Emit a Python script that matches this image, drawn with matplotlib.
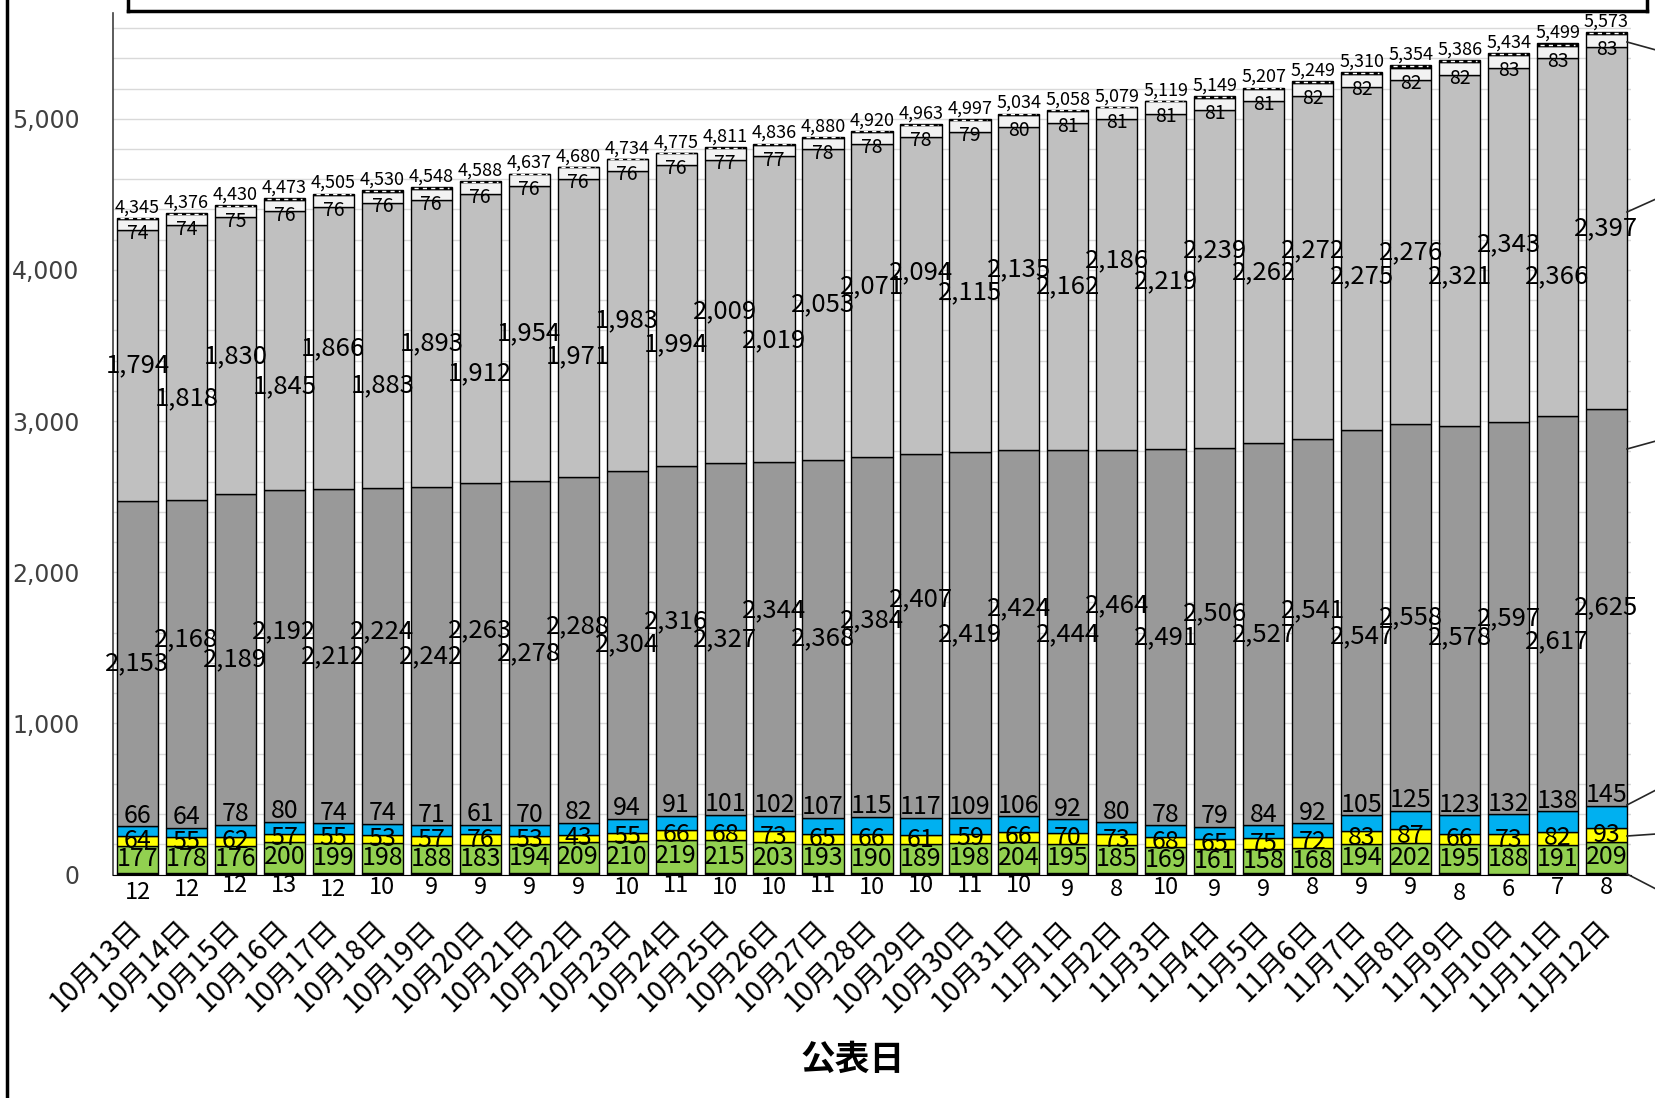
import numpy as np
import matplotlib.pyplot as plt
from matplotlib.lines import Line2D

plt.rcParams['font.family'] = ['Noto Sans CJK JP', 'DejaVu Sans']

# data (bottom -> top of each stacked bar)
dates = ['10月13日', '10月14日', '10月15日', '10月16日', '10月17日', '10月18日', '10月19日',
         '10月20日', '10月21日', '10月22日', '10月23日', '10月24日', '10月25日', '10月26日',
         '10月27日', '10月28日', '10月29日', '10月30日', '10月31日', '11月1日', '11月2日',
         '11月3日', '11月4日', '11月5日', '11月6日', '11月7日', '11月8日', '11月9日',
         '11月10日', '11月11日', '11月12日']
totals = [4345, 4376, 4430, 4473, 4505, 4530, 4548, 4588, 4637, 4680, 4734, 4775, 4811, 4836,
          4880, 4920, 4963, 4997, 5034, 5058, 5079, 5119, 5149, 5207, 5249, 5310, 5354, 5386,
          5434, 5499, 5573]
black_vals = [12, 12, 12, 13, 12, 10, 9, 9, 9, 9, 10, 11, 10, 10, 11, 10, 10, 11, 10, 9, 8, 10,
              9, 9, 8, 9, 9, 8, 6, 7, 8]
green_vals = [177, 178, 176, 200, 199, 198, 188, 183, 194, 209, 210, 219, 215, 203, 193, 190, 189,
              198, 204, 195, 185, 169, 161, 158, 168, 194, 202, 195, 188, 191, 209]
yellow_vals = [64, 55, 62, 57, 55, 53, 57, 76, 53, 43, 55, 66, 68, 73, 65, 66, 61, 59, 66, 70, 73,
               68, 65, 75, 72, 83, 87, 66, 73, 82, 93]
blue_vals = [66, 64, 78, 80, 74, 74, 71, 61, 70, 82, 94, 91, 101, 102, 107, 115, 117, 109, 106, 92,
             80, 78, 79, 84, 92, 105, 125, 123, 132, 138, 145]
dark_vals = [2153, 2168, 2189, 2192, 2212, 2224, 2242, 2263, 2278, 2288, 2304, 2316, 2327, 2344,
             2368, 2384, 2407, 2419, 2424, 2444, 2464, 2491, 2506, 2527, 2541, 2547, 2558, 2578,
             2597, 2617, 2625]
light_vals = [1794, 1818, 1830, 1845, 1866, 1883, 1893, 1912, 1954, 1971, 1983, 1994, 2009, 2019,
              2053, 2071, 2094, 2115, 2135, 2162, 2186, 2219, 2239, 2262, 2272, 2275, 2276, 2321,
              2343, 2366, 2397]
white_vals = [74, 74, 75, 76, 76, 76, 76, 76, 76, 76, 76, 76, 77, 77, 78, 78, 78, 79, 80, 81, 81,
              81, 81, 81, 82, 82, 82, 82, 83, 83, 83]
other_vals = [5, 7, 8, 10, 11, 12, 12, 8, 3, 2, 2, 2, 4, 8, 5, 6, 7, 7, 9, 5, 2, 3, 9, 11, 14, 15,
              15, 13, 12, 15, 13]

# staggering of the big labels (pixels, + = up)
light_nudge = [0, -34, 0, -34, 0, -38, 0, -33, 0, -27, 0, -27, 0, -30, 0, 13, 22, 0, 18, 0, 23, 0,
               27, 0, 16, -17, 0, -25, 0, -37, 0]
dark_nudge = [0, 23, 0, 23, 0, 23, 0, 22, 0, 22, 0, 19, 0, 27, 0, 16, 34, 0, 23, 0, 29, 0, 23, 0,
              20, -13, 0, -16, 0, -26, 0]
black_nudge = [-17, -14, -10, -10, -14, -12, -12, -12, -12, -12, -12, -10, -12, -12, -10, -12, -10,
               -10, -10, -14, -14, -12, -14, -14, -12, -12, -12, -18, -14, -12, -12]

W, H = 1656, 1098
fig = plt.figure(figsize=(W / 100, H / 100), dpi=100)
ax = fig.add_axes([113 / W, 1 - 874.5 / H, (1631 - 113) / W, (874.5 - 13) / H])

x = np.arange(len(dates))
w = 0.84
series = [black_vals, green_vals, yellow_vals, blue_vals, dark_vals, light_vals, white_vals, other_vals]
colors = ['#000000', '#92D050', '#FFFF00', '#00B0F0', '#999999', '#C0C0C0', '#F2F2F2', '#000000']
bottom = np.zeros(len(dates))
bottoms = []
for vals, c in zip(series, colors):
    ax.bar(x, vals, w, bottom=bottom, color=c, edgecolor='black', linewidth=1.0, zorder=2)
    bottoms.append(bottom.copy())
    bottom = bottom + np.array(vals)

# dashed pattern on the top segment
ax.hlines(bottoms[7] + np.array(other_vals) / 2, x - w * 0.42, x + w * 0.42, colors='white',
          linestyles=(0, (3, 3)), lw=1.0, zorder=3)

px = 0.76  # display px -> points


def lab(xi, y, v, size, dy=0.0):
    ax.annotate(f'{v:,}', (xi, y), xytext=(0, dy), textcoords='offset points',
                ha='center', va='center', fontsize=size, color='black', zorder=5)


for i in x:
    lab(i, 0, black_vals[i], 17, black_nudge[i] * px)
    lab(i, bottoms[1][i] + green_vals[i] / 2, green_vals[i], 18)
    lab(i, bottoms[2][i] + yellow_vals[i] / 2, yellow_vals[i], 18)
    lab(i, bottoms[3][i] + blue_vals[i], blue_vals[i], 18, 10 * px)
    lab(i, bottoms[4][i] + dark_vals[i] / 2, dark_vals[i], 18.5, dark_nudge[i] * px)
    lab(i, bottoms[5][i] + light_vals[i] / 2, light_vals[i], 18.5, light_nudge[i] * px)
    lab(i, bottoms[6][i] + white_vals[i] / 2, white_vals[i], 14, -9 * px)
    lab(i, totals[i], totals[i], 13, 10 * px)

ax.set_xlim(-0.5, len(dates) - 0.5)
ax.set_ylim(0, 5700)
ax.set_yticks(range(0, 6000, 1000))
ax.set_yticklabels([f'{v:,}' for v in range(0, 6000, 1000)], family='DejaVu Sans')
ax.set_yticks(np.arange(0, 5700, 200), minor=True)
ax.grid(axis='y', which='both', color='#D9D9D9', lw=1.0, zorder=0)
ax.set_axisbelow(True)
ax.tick_params(axis='y', which='both', length=0, pad=24, labelsize=17, labelcolor='#404040')

ax.set_xticks(x)
ax.set_xticklabels(dates, rotation=45, ha='right', va='center', rotation_mode='anchor', fontsize=20)
ax.tick_params(axis='x', length=0, pad=36)

for s in ['top', 'right']:
    ax.spines[s].set_visible(False)
ax.spines['left'].set_color('#404040')
ax.spines['left'].set_linewidth(1.2)
ax.spines['bottom'].set_color('black')

fig.text(853 / W, 1 - 1059 / H, '公表日', ha='center', va='center', fontsize=25, fontweight='bold')

# chart frame and the cut-off box at the top
fig.add_artist(Line2D([7.5 / W] * 2, [0, 1], color='black', lw=2.5))
fig.add_artist(Line2D([128 / W, 1647 / W], [1 - 11 / H] * 2, color='black', lw=2.5))
fig.add_artist(Line2D([128 / W] * 2, [1 - 11 / H, 1], color='black', lw=2.5))
fig.add_artist(Line2D([1647 / W] * 2, [1 - 11 / H, 1], color='black', lw=2.5))

# leader lines going to the series names outside the picture
leaders = [((1627, 42), (1656, 50)), ((1627, 212), (1656, 199)), ((1627, 449), (1656, 441)),
           ((1627, 805), (1656, 790)), ((1627, 836), (1656, 834)), ((1627, 874), (1656, 889))]
for (x0, y0), (x1, y1) in leaders:
    fig.add_artist(Line2D([x0 / W, x1 / W], [1 - y0 / H, 1 - y1 / H], color='#262626', lw=1.2))

fig.savefig('out.png', dpi=100)
